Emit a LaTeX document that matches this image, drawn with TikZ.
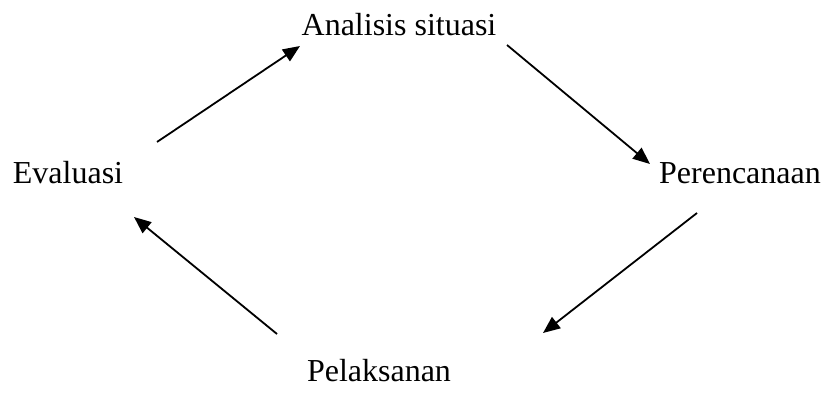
\documentclass[tikz,border=0pt]{standalone}
\usepackage{fontspec}
\setmainfont{Liberation Serif}
\usetikzlibrary{arrows.meta}
\tikzset{
  lbl/.style={inner sep=0pt, anchor=base, font=\fontsize{32}{36}\selectfont},
  arr/.style={line width=1.8pt, -{Triangle[length=17pt,width=14pt]}}
}
\begin{document}
\begin{tikzpicture}[x=1pt,y=-1pt]
\useasboundingbox (0,0) rectangle (824,406);
\node[lbl] (anal) at (399,36) {Analisis situasi};
\node[lbl] (eval) at (68,184) {Evaluasi};
\node[lbl] (renc) at (740,184) {Perencanaan};
\node[lbl] (pel) at (379,381) {Pelaksanan};
\coordinate (a1s) at (157,142);
\coordinate (a1e) at (300,46);
\coordinate (a2s) at (507,45);
\coordinate (a2e) at (650,164);
\coordinate (a3s) at (697,213);
\coordinate (a3e) at (543,333);
\coordinate (a4s) at (277,334);
\coordinate (a4e) at (134,217);
\draw[arr] (a1s) -- (a1e);
\draw[arr] (a2s) -- (a2e);
\draw[arr] (a3s) -- (a3e);
\draw[arr] (a4s) -- (a4e);
\end{tikzpicture}
\end{document}
